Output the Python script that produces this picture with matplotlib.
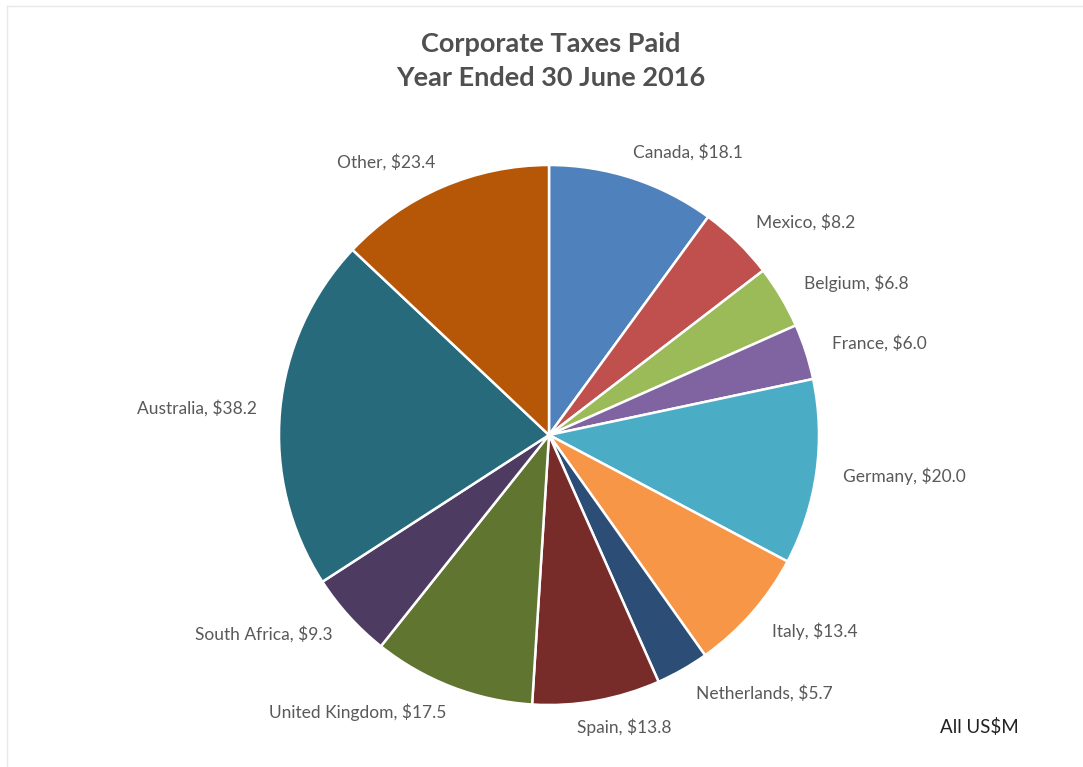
import numpy as np
import matplotlib
matplotlib.use("Agg")
import matplotlib.pyplot as plt

# values in US$M, clockwise from 12 o'clock
countries = ["Canada", "Mexico", "Belgium", "France", "Germany", "Italy",
             "Netherlands", "Spain", "United Kingdom", "South Africa",
             "Australia", "Other"]
taxes = [18.1, 8.2, 6.8, 6.0, 20.0, 13.4, 5.7, 13.8, 17.5, 9.3, 38.2, 23.4]
colors = ["#4F81BD", "#C0504D", "#9BBB59", "#8064A2", "#4BACC6", "#F79646",
          "#2C4D75", "#772C2A", "#5F7530", "#4D3B62", "#276A7C", "#B65708"]

W, H = 1083, 767
plt.rcParams['font.family'] = ['Lato', 'DejaVu Sans']

fig = plt.figure(figsize=(W / 100, H / 100), dpi=100)
ax = fig.add_axes([0, 0, 1, 1])

cx, cy, R = 549, H - 435, 270
wedges, _ = ax.pie(taxes, colors=colors, startangle=90, counterclock=False,
                   center=(cx, cy), radius=R,
                   wedgeprops=dict(edgecolor="white", linewidth=1.8))
ax.set_xlim(0, W)
ax.set_ylim(0, H)
ax.set_aspect("equal")
ax.axis("off")

# data labels, Excel style, just outside the rim
fig.canvas.draw()
renderer = fig.canvas.get_renderer()
for w, name, val in zip(wedges, countries, taxes):
    mid = np.deg2rad((w.theta1 + w.theta2) / 2)
    x = cx + 1.1 * R * np.cos(mid)
    y = cy + 1.1 * R * np.sin(mid)
    t = ax.text(x, y, f"{name}, ${val:.1f}", ha="left", va="center",
                fontsize=12.5, color="#595959")
    width = t.get_window_extent(renderer).width
    frac = np.clip((1 - np.cos(mid) / 0.36) / 2, 0, 1)
    t.set_x(x + 4 * (frac > 0.5) - frac * width)

fig.text(551 / W, 1 - 44 / H, "Corporate Taxes Paid", ha="center", va="center",
         fontsize=19.5, fontweight="bold", color="#505050")
fig.text(551 / W, 1 - 78 / H, "Year Ended 30 June 2016", ha="center", va="center",
         fontsize=19.5, fontweight="bold", color="#505050")
fig.text(1 - 64 / W, 1 - 727 / H, "All US$M", ha="right", va="center",
         fontsize=13.5, color="#222222")

# faint frame edge, top and left
fig.add_artist(plt.Line2D([7 / W, 1], [1 - 6 / H, 1 - 6 / H], color="#E8E8E8", lw=1))
fig.add_artist(plt.Line2D([7 / W, 7 / W], [0, 1 - 6 / H], color="#E8E8E8", lw=1))

fig.savefig("out.png", dpi=100)
